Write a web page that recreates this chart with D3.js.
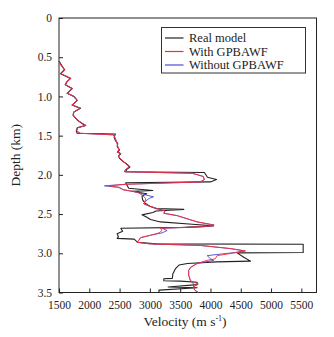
<!DOCTYPE html>
<html>
<head>
<meta charset="utf-8">
<script src="https://cdn.jsdelivr.net/npm/d3@7"></script>
<style>
  body { margin: 0; background: #fff; }
</style>
</head>
<body>
<svg id="chart" width="334" height="337"></svg>
<script>
"use strict";

// real model (black)
const realDepth = [0.55, 0.60, 0.66, 0.71, 0.77, 0.81, 0.85, 0.90, 0.96, 1.00, 1.05, 1.11, 1.15, 1.20, 1.24, 1.30, 1.34, 1.37, 1.40, 1.44, 1.47,
    1.48, 1.52, 1.56, 1.60, 1.64, 1.68, 1.71, 1.73, 1.76, 1.79, 1.83, 1.86, 1.90, 1.93, 1.96,
    1.97, 2.03, 2.06, 2.09, 2.10, 2.13, 2.17, 2.20, 2.21, 2.24, 2.27, 2.32, 2.36, 2.40, 2.43, 2.44, 2.46, 2.48, 2.51, 2.54, 2.57, 2.60,
    2.63, 2.65, 2.67, 2.68, 2.72, 2.75, 2.79, 2.81, 2.82, 2.86, 2.88,
    2.885, 2.99, 2.995, 3.05, 3.10, 3.11, 3.13, 3.15, 3.20, 3.26, 3.32, 3.325, 3.35, 3.355, 3.37, 3.40, 3.43, 3.44, 3.47, 3.50];
const realVel = [1500, 1540, 1590, 1525, 1690, 1635, 1607, 1718, 1635, 1745, 1800, 1718, 1855, 1745, 1730, 1800, 1870, 1930, 1800, 1785, 1800,
    2430, 2410, 2430, 2470, 2460, 2500, 2470, 2520, 2480, 2500, 2560, 2615, 2670, 2620, 2600,
    3900, 3950, 4100, 4000, 2600, 2620, 2650, 3050, 2700, 2950, 2870, 2880, 2920, 3000, 3100, 3560, 3100, 3050, 2870, 2950, 3010, 3175,
    3700, 4050, 3600, 2520, 2550, 2460, 2480, 2460, 2740, 2800, 3100,
    5530, 5530, 4440, 4550, 4660, 4100, 3620, 3480, 3420, 3380, 3370, 3230, 3230, 3500, 3780, 3780, 3300, 3780, 3150, 3150];

// with / without GPBAWF
const invDepth = [0.55, 0.60, 0.66, 0.71, 0.77, 0.81, 0.85, 0.90, 0.96, 1.00, 1.05, 1.11, 1.15, 1.20, 1.24, 1.30, 1.34, 1.37, 1.40, 1.44, 1.47,
    1.49, 1.52, 1.56, 1.60, 1.64, 1.68, 1.71, 1.73, 1.76, 1.79, 1.83, 1.86, 1.90, 1.93, 1.96,
    1.98, 2.02, 2.06, 2.09, 2.12, 2.14, 2.16, 2.19, 2.22, 2.26, 2.28, 2.30, 2.34, 2.37, 2.40, 2.43, 2.46, 2.49, 2.52, 2.56, 2.60,
    2.64, 2.66, 2.68, 2.71, 2.74, 2.77, 2.80, 2.86, 2.88, 2.90, 2.94, 2.97, 2.99,
    3.03, 3.07, 3.09, 3.13, 3.18, 3.22, 3.28, 3.35, 3.39, 3.43, 3.47, 3.50];
const withVel = [1500, 1530, 1600, 1530, 1700, 1630, 1600, 1720, 1630, 1750, 1800, 1710, 1850, 1740, 1740, 1800, 1880, 1940, 1810, 1790, 1850,
    2400, 2420, 2440, 2460, 2470, 2490, 2460, 2520, 2480, 2510, 2560, 2610, 2660, 2600, 2580,
    3700, 3880, 3900, 3830, 2600, 2330, 2500, 2560, 2790, 2880, 2900, 2930, 2920, 2900, 3000, 3120, 3250, 3230, 3450, 3615, 3780,
    4060, 3900, 3175, 3200, 3150, 3010, 2850, 2790, 3000, 3835, 4330, 4580, 4440,
    4110, 4080, 3945, 3780, 3670, 3640, 3640, 3670, 3800, 3720, 3740, 3800];
const withoutVel = [1500, 1530, 1590, 1530, 1690, 1630, 1600, 1710, 1630, 1750, 1800, 1720, 1850, 1740, 1740, 1800, 1880, 1950, 1810, 1790, 1850,
    2400, 2420, 2440, 2460, 2470, 2490, 2460, 2520, 2480, 2510, 2560, 2610, 2660, 2600, 2580,
    3700, 3880, 3900, 3830, 2600, 2250, 2480, 2560, 2790, 2950, 3060, 2990, 2920, 2900, 3000, 3120, 3250, 3230, 3450, 3615, 3780,
    4060, 3900, 3200, 3285, 3200, 3010, 2850, 2790, 3000, 3835, 4330, 4560, 4400,
    3945, 4000, 4055, 3780, 3670, 3640, 3640, 3670, 3720, 3720, 3740, 3800];

const xTicks = [1500, 2000, 2500, 3000, 3500, 4000, 4500, 5000, 5500];
const yTicks = [0, 0.5, 1.0, 1.5, 2.0, 2.5, 3.0, 3.5];
const seriesNames = ["Real model", "With GPBAWF", "Without GPBAWF"];
const seriesColors = ["#222", "#ff2a2a", "#4a4ad8"];

const serif = "'Liberation Serif', 'Times New Roman', 'DejaVu Serif', serif";

const svg = d3.select("#chart");

const pl = 59, pr = 316.5, pt = 18, pb = 292.5;

const x = d3.scaleLinear().domain([1500, 5750]).range([pl, pr]);
const y = d3.scaleLinear().domain([0, 3.5]).range([pt, pb]);

// frame
svg.append("rect")
    .attr("x", pl).attr("y", pt)
    .attr("width", pr - pl).attr("height", pb - pt)
    .attr("fill", "none").attr("stroke", "#222").attr("stroke-width", 1);

svg.append("g")
    .attr("transform", `translate(0, ${pb})`)
    .call(d3.axisBottom(x).tickValues(xTicks).tickSize(-4).tickPadding(8).tickFormat(d3.format("d")))
    .attr("font-family", serif)
    .attr("font-size", 11.5)
    .call(g => g.select(".domain").remove())
    .call(g => g.selectAll("line").attr("stroke", "#222"))
    .call(g => g.selectAll("text").attr("fill", "#222"));

svg.append("g")
    .attr("transform", `translate(${pl}, 0)`)
    .call(d3.axisLeft(y).tickValues(yTicks).tickSize(-4).tickPadding(7).tickFormat(d => d === 0 ? "0" : d3.format(".1f")(d)))
    .attr("font-family", serif)
    .attr("font-size", 11.5)
    .call(g => g.select(".domain").remove())
    .call(g => g.selectAll("line").attr("stroke", "#222"))
    .call(g => g.selectAll("text").attr("fill", "#222"));

// axis titles
svg.append("text")
    .attr("transform", `translate(20, ${(pt + pb) / 2}) rotate(-90)`)
    .attr("text-anchor", "middle")
    .attr("font-family", serif)
    .attr("font-size", 13.5)
    .attr("fill", "#222")
    .text("Depth (km)");

const xt = svg.append("text")
    .attr("x", 185).attr("y", 326)
    .attr("text-anchor", "middle")
    .attr("font-family", serif)
    .attr("font-size", 13.5)
    .attr("fill", "#222");
xt.append("tspan").text("Velocity (m s");
xt.append("tspan").attr("dy", -5).attr("font-size", 8).text("-1");
xt.append("tspan").attr("dy", 5).text(")");

// curves
const line = d3.line().x(d => x(d[1])).y(d => y(d[0]));

const curves = [
    d3.zip(realDepth, realVel),
    d3.zip(invDepth, withVel),
    d3.zip(invDepth, withoutVel)
];

[0, 2, 1].forEach(i => {
    svg.append("path")
        .datum(curves[i])
        .attr("d", line)
        .attr("fill", "none")
        .attr("stroke", seriesColors[i])
        .attr("stroke-width", i === 0 ? 1.1 : 0.9)
        .attr("stroke-linejoin", "round");
});

// legend
const lg = svg.append("g");
lg.append("rect")
    .attr("x", 161.5).attr("y", 27.5)
    .attr("width", 144).attr("height", 45.5)
    .attr("fill", "#fff").attr("stroke", "#333").attr("stroke-width", 1);

seriesNames.forEach((name, i) => {
    const ly = 38 + i * 13.5;
    lg.append("line")
        .attr("x1", 165).attr("x2", 183.5)
        .attr("y1", ly).attr("y2", ly)
        .attr("stroke", seriesColors[i]).attr("stroke-width", 1.2);
    lg.append("text")
        .attr("x", 189).attr("y", ly + 4)
        .attr("font-family", serif)
        .attr("font-size", 12.5)
        .attr("fill", "#222")
        .text(name);
});
</script>
</body>
</html>
